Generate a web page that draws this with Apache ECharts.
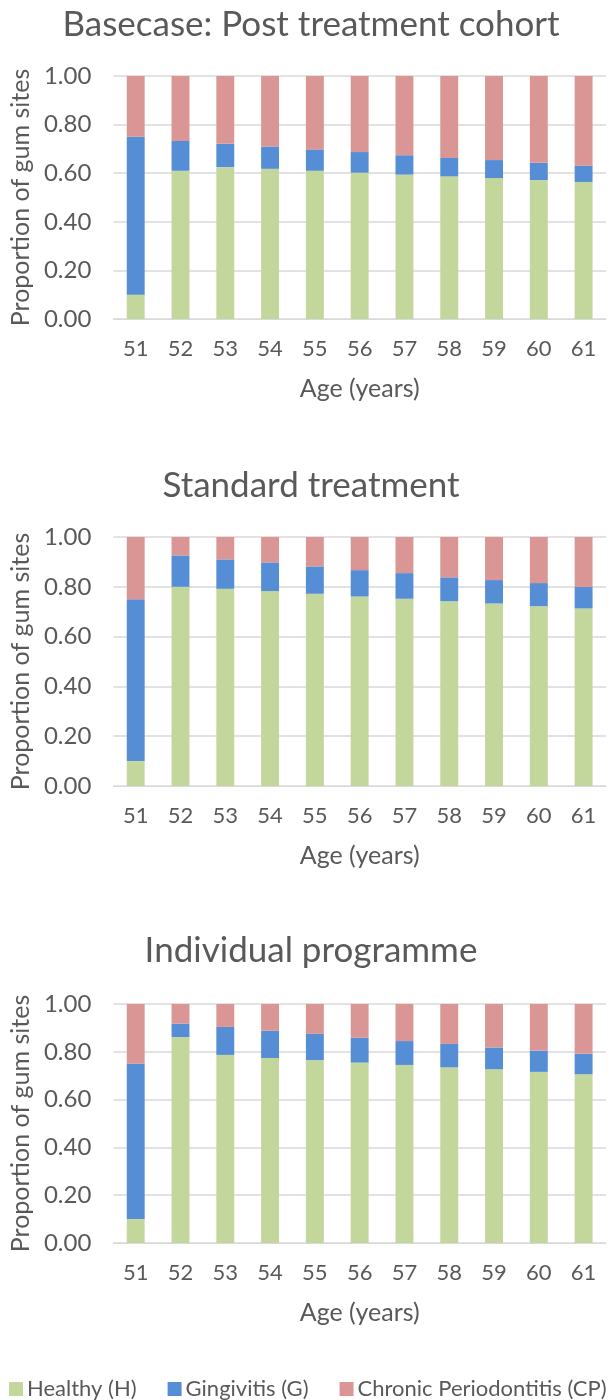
<!DOCTYPE html>
<html><head><meta charset="utf-8">
<script src="https://cdn.jsdelivr.net/npm/echarts@6/dist/echarts.min.js"></script>
<style>html,body{margin:0;padding:0;background:#fff}#c{width:612px;height:1400px}</style>
</head><body><div id="c"></div>
<script>
const ages = ['51','52','53','54','55','56','57','58','59','60','61'];
const yTicks = [0, 0.2, 0.4, 0.6, 0.8, 1.0];
const titles = ['Basecase: Post treatment cohort', 'Standard treatment', 'Individual programme'];
const seriesNames = ['Healthy (H)', 'Gingivitis (G)', 'Chronic Periodontitis (CP)'];

const baseH  = [0.10, 0.610, 0.625, 0.618, 0.610, 0.602, 0.594, 0.587, 0.580, 0.572, 0.564];
const baseG  = [0.65, 0.123, 0.096, 0.092, 0.088, 0.085, 0.080, 0.076, 0.074, 0.071, 0.067];
const baseCP = [0.25, 0.267, 0.279, 0.290, 0.302, 0.313, 0.326, 0.337, 0.346, 0.357, 0.369];

const stdH  = [0.10, 0.800, 0.792, 0.783, 0.772, 0.761, 0.752, 0.742, 0.733, 0.722, 0.713];
const stdG  = [0.65, 0.126, 0.118, 0.115, 0.110, 0.106, 0.103, 0.096, 0.094, 0.093, 0.086];
const stdCP = [0.25, 0.074, 0.090, 0.102, 0.118, 0.133, 0.145, 0.162, 0.173, 0.185, 0.201];

const indH  = [0.10, 0.862, 0.787, 0.774, 0.765, 0.755, 0.745, 0.735, 0.727, 0.716, 0.706];
const indG  = [0.65, 0.056, 0.117, 0.115, 0.110, 0.104, 0.100, 0.098, 0.091, 0.089, 0.086];
const indCP = [0.25, 0.082, 0.096, 0.111, 0.125, 0.141, 0.155, 0.167, 0.182, 0.195, 0.208];

const panels = [[baseH, baseG, baseCP], [stdH, stdG, stdCP], [indH, indG, indCP]];
const colors = ['#C3D69B', '#558ED5', '#D99694'];
const FONT = 'Lato';
const TXT = '#595959';

const gridPos = [{top: 76, height: 243}, {top: 537, height: 249}, {top: 1004, height: 239}];
const titleTop = [2, 463, 928];

const option = {
  animation: false,
  color: colors,
  textStyle: {fontFamily: FONT},
  title: titles.map((t, i) => ({
    text: t, left: 306, top: titleTop[i], textAlign: 'center',
    textStyle: {fontFamily: FONT, fontSize: 35, fontWeight: 'normal', color: TXT}
  })),
  legend: {
    data: seriesNames, left: 4, top: 1373, itemWidth: 14, itemHeight: 14, itemGap: 31,
    icon: 'rect',
    textStyle: {fontFamily: FONT, fontSize: 22, color: TXT, padding: [0, 0, 0, -1]}
  },
  grid: gridPos.map(g => ({left: 113, right: 6, top: g.top, height: g.height})),
  xAxis: gridPos.map((g, i) => ({
    type: 'category', gridIndex: i, data: ages,
    name: 'Age (years)', nameLocation: 'middle', nameGap: 57,
    nameTextStyle: {fontFamily: FONT, fontSize: 25, color: TXT},
    axisLine: {lineStyle: {color: '#D9D9D9', width: 1}},
    axisTick: {show: false},
    axisLabel: {fontFamily: FONT, fontSize: 22, color: TXT, margin: 19}
  })),
  yAxis: gridPos.map((g, i) => ({
    type: 'value', gridIndex: i, min: 0, max: 1, interval: 0.2,
    name: 'Proportion of gum sites', nameLocation: 'middle', nameGap: 78,
    nameTextStyle: {fontFamily: FONT, fontSize: 25, color: TXT},
    axisLine: {show: false}, axisTick: {show: false},
    splitLine: {lineStyle: {color: '#D9D9D9', width: 1.5}},
    axisLabel: {fontFamily: FONT, fontSize: 24, color: TXT, margin: 22,
      formatter: v => v.toFixed(2)}
  })),
  series: []
};
panels.forEach((p, i) => {
  p.forEach((vals, k) => {
    option.series.push({
      name: seriesNames[k], type: 'bar', stack: 'p' + i,
      xAxisIndex: i, yAxisIndex: i, data: vals, barWidth: '40%',
      itemStyle: {color: colors[k]}
    });
  });
});
const chart = echarts.init(document.getElementById('c'), null, {renderer: 'canvas'});
chart.setOption(option);
</script></body></html>
